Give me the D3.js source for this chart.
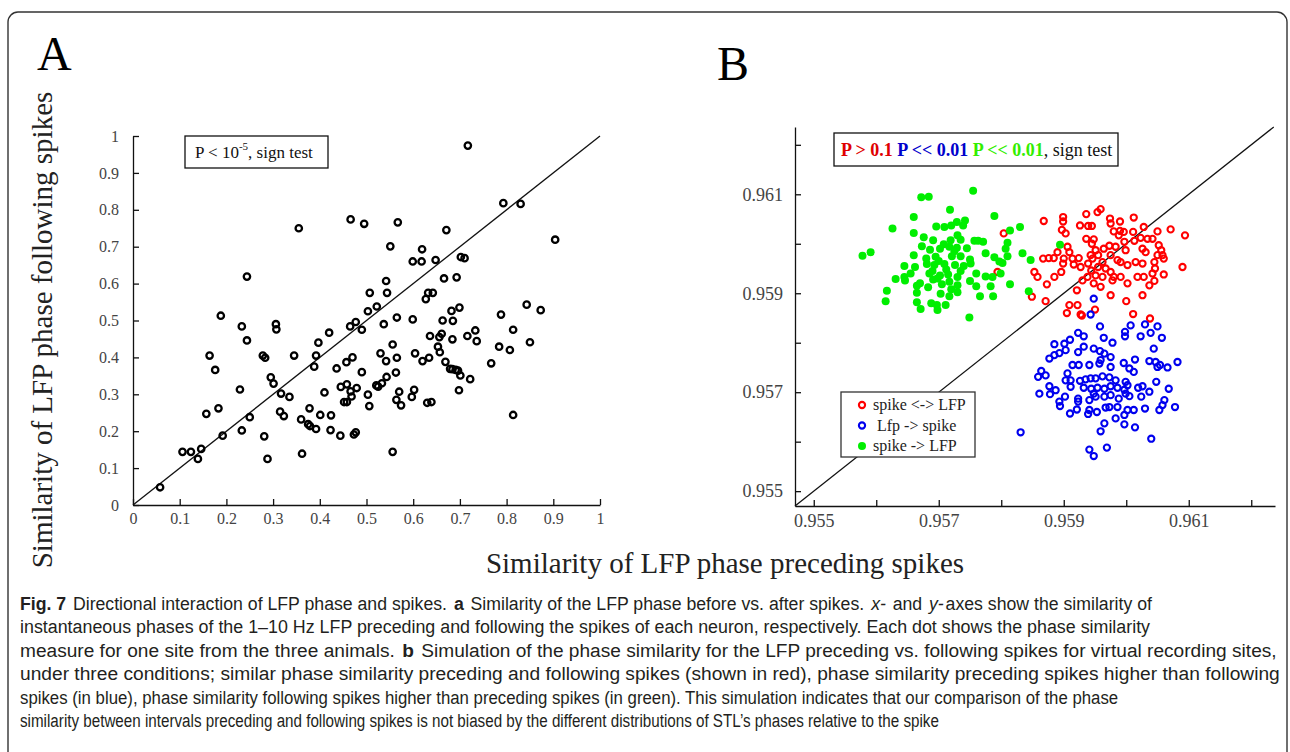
<!DOCTYPE html>
<html>
<head>
<meta charset="utf-8">
<script src="https://cdn.jsdelivr.net/npm/d3@7"></script>
<style>
  body { margin: 0; background: #fff; }
  svg { display: block; }
</style>
</head>
<body>
<svg id="fig" width="1290" height="752"></svg>
<script>
// ---------- Panel A: phase similarity per recording site (preceding, following) ----------
const sitesA = [
  [0.058,0.048],[0.106,0.144],[0.124,0.144],[0.146,0.152],[0.139,0.125],[0.288,0.125],[0.281,0.186],[0.233,0.202],
  [0.192,0.188],[0.157,0.247],[0.183,0.262],[0.250,0.238],[0.229,0.313],[0.295,0.346],[0.301,0.329],[0.317,0.302],
  [0.335,0.293],[0.315,0.253],[0.323,0.241],[0.360,0.232],[0.378,0.262],[0.362,0.139],[0.164,0.405],[0.176,0.366],
  [0.188,0.513],[0.233,0.484],[0.244,0.446],[0.278,0.405],[0.283,0.399],[0.306,0.490],[0.307,0.476],[0.345,0.405],
  [0.375,0.219],[0.379,0.214],[0.392,0.206],[0.388,0.375],[0.397,0.440],[0.392,0.405],[0.410,0.305],[0.423,0.203],
  [0.424,0.243],[0.444,0.188],[0.436,0.370],[0.445,0.320],[0.457,0.387],[0.458,0.327],[0.465,0.484],[0.477,0.496],
  [0.479,0.317],[0.473,0.191],[0.477,0.197],[0.490,0.360],[0.490,0.475],[0.503,0.525],[0.503,0.299],[0.506,0.268],
  [0.470,0.400],[0.458,0.279],[0.452,0.279],[0.466,0.308],[0.468,0.294],[0.244,0.619],[0.355,0.750],[0.466,0.774],
  [0.495,0.762],[0.507,0.575],[0.522,0.538],[0.717,0.974],[0.793,0.818],[0.830,0.816],[0.904,0.719],[0.567,0.766],
  [0.671,0.745],[0.551,0.701],[0.619,0.693],[0.599,0.660],[0.618,0.660],[0.648,0.664],[0.702,0.672],[0.710,0.669],
  [0.666,0.614],[0.693,0.617],[0.542,0.607],[0.544,0.575],[0.632,0.575],[0.642,0.575],[0.627,0.558],[0.843,0.543],
  [0.873,0.528],[0.788,0.516],[0.682,0.526],[0.699,0.535],[0.565,0.508],[0.599,0.503],[0.663,0.500],[0.685,0.499],
  [0.537,0.490],[0.420,0.467],[0.814,0.475],[0.733,0.473],[0.716,0.458],[0.736,0.444],[0.850,0.441],[0.636,0.458],
  [0.656,0.455],[0.661,0.464],[0.684,0.449],[0.784,0.429],[0.807,0.420],[0.653,0.429],[0.657,0.414],[0.556,0.435],
  [0.530,0.411],[0.604,0.411],[0.565,0.399],[0.542,0.390],[0.620,0.390],[0.634,0.399],[0.669,0.388],[0.767,0.384],
  [0.679,0.369],[0.684,0.368],[0.691,0.366],[0.696,0.364],[0.701,0.351],[0.722,0.341],[0.698,0.311],[0.563,0.359],
  [0.543,0.347],[0.533,0.330],[0.521,0.324],[0.525,0.321],[0.570,0.307],[0.602,0.312],[0.597,0.293],[0.564,0.285],
  [0.574,0.270],[0.630,0.277],[0.639,0.279],[0.401,0.244],[0.556,0.144],[0.814,0.244]
];
const ticksA = [0, 0.1, 0.2, 0.3, 0.4, 0.5, 0.6, 0.7, 0.8, 0.9, 1];
const tickLabelsA = ["0", "0.1", "0.2", "0.3", "0.4", "0.5", "0.6", "0.7", "0.8", "0.9", "1"];

// ---------- Panel B: simulated sites under three conditions ----------
const bidirectional = [ // spike <-> LFP
  [0.95868,0.96046],[0.95899,0.96054],[0.95899,0.96045],[0.95897,0.96028],[0.95903,0.96021],[0.95926,0.96037],
  [0.95936,0.96060],[0.95939,0.96036],[0.95945,0.96036],[0.95954,0.96064],[0.95959,0.96070],[0.95974,0.96051],
  [0.95990,0.96045],[0.96012,0.96053],[0.95975,0.96041],[0.95980,0.96025],[0.95990,0.96026],[0.95988,0.96017],
  [0.95996,0.96024],[0.96011,0.96024],[0.96028,0.96034],[0.96050,0.96025],[0.96071,0.96029],[0.96094,0.96017],
  [0.95936,0.96010],[0.95948,0.96009],[0.95945,0.96000],[0.95964,0.95990],[0.95973,0.95996],[0.95983,0.95994],
  [0.95997,0.96004],[0.96013,0.96006],[0.96023,0.96012],[0.96034,0.96010],[0.96042,0.96010],[0.96052,0.95997],
  [0.96056,0.95987],[0.96058,0.95977],[0.96026,0.95990],[0.96031,0.95983],[0.95906,0.95994],[0.95909,0.95983],
  [0.95900,0.95970],[0.95884,0.95971],[0.95876,0.95971],[0.95867,0.95970],[0.95890,0.95983],[0.95899,0.95960],
  [0.95914,0.95970],[0.95924,0.95971],[0.95916,0.95958],[0.95927,0.95953],[0.95939,0.95960],[0.95943,0.95977],
  [0.95951,0.95987],[0.95946,0.95970],[0.95955,0.95977],[0.95962,0.95963],[0.95975,0.95977],[0.95986,0.95967],
  [0.95999,0.95987],[0.95991,0.95963],[0.96002,0.95957],[0.96015,0.95963],[0.96026,0.95960],[0.96045,0.95963],
  [0.96050,0.95977],[0.96060,0.95970],[0.95944,0.95946],[0.95955,0.95953],[0.95967,0.95950],[0.95975,0.95943],
  [0.95980,0.95933],[0.95962,0.95933],[0.95951,0.95936],[0.95938,0.95933],[0.95930,0.95926],[0.95948,0.95920],
  [0.95959,0.95913],[0.95978,0.95926],[0.95991,0.95933],[0.96002,0.95920],[0.96018,0.95933],[0.96028,0.95933],
  [0.96042,0.95940],[0.96046,0.95950],[0.96060,0.95938],[0.96037,0.95916],[0.96045,0.95925],[0.95853,0.95943],
  [0.95858,0.95933],[0.95885,0.95933],[0.95896,0.95943],[0.95873,0.95918],[0.95849,0.95893],[0.95871,0.95884],
  [0.95921,0.95906],[0.95975,0.95896],[0.96000,0.95884],[0.96026,0.95896],[0.96090,0.95953],[0.95922,0.95876],
  [0.95909,0.95876],[0.95905,0.95860],[0.95927,0.95857],[0.95929,0.95855],[0.95950,0.95867],[0.96011,0.95858],
  [0.96038,0.95849],[0.95804,0.96021],[0.95794,0.95943]
];
const lfpToSpike = [ // Lfp -> spike
  [0.95958,0.95833],[0.95998,0.95822],[0.95998,0.95813],[0.96007,0.95835],[0.96030,0.95837],[0.96050,0.95833],
  [0.96039,0.95820],[0.96057,0.95810],[0.96023,0.95813],[0.95964,0.95810],[0.95978,0.95800],[0.95923,0.95820],
  [0.95932,0.95813],[0.95910,0.95806],[0.95901,0.95798],[0.95885,0.95797],[0.95903,0.95785],[0.95893,0.95779],
  [0.95885,0.95775],[0.95877,0.95768],[0.95923,0.95781],[0.95932,0.95792],[0.95948,0.95788],[0.95958,0.95783],
  [0.95965,0.95778],[0.95975,0.95771],[0.95959,0.95765],[0.95957,0.95758],[0.95975,0.95751],[0.95996,0.95759],
  [0.96005,0.95748],[0.96012,0.95741],[0.96014,0.95766],[0.96044,0.95788],[0.96037,0.95763],[0.96047,0.95761],
  [0.96050,0.95751],[0.96066,0.95750],[0.96082,0.95761],[0.96054,0.95755],[0.95914,0.95755],[0.95924,0.95755],
  [0.95941,0.95755],[0.95864,0.95743],[0.95859,0.95731],[0.95871,0.95734],[0.95906,0.95738],[0.95903,0.95724],
  [0.95911,0.95724],[0.95926,0.95723],[0.95935,0.95726],[0.95943,0.95728],[0.95951,0.95728],[0.95962,0.95732],
  [0.95973,0.95730],[0.95983,0.95724],[0.95999,0.95721],[0.96002,0.95714],[0.96019,0.95709],[0.96026,0.95712],
  [0.96037,0.95701],[0.96048,0.95721],[0.96068,0.95707],[0.95877,0.95712],[0.95887,0.95704],[0.95861,0.95697],
  [0.95878,0.95696],[0.95911,0.95711],[0.95932,0.95709],[0.95944,0.95707],[0.95954,0.95709],[0.95965,0.95707],
  [0.95975,0.95712],[0.95986,0.95709],[0.95997,0.95705],[0.96005,0.95692],[0.96024,0.95691],[0.95902,0.95691],
  [0.95893,0.95681],[0.95894,0.95672],[0.95923,0.95687],[0.95923,0.95681],[0.95941,0.95684],[0.95951,0.95691],
  [0.95965,0.95691],[0.95975,0.95694],[0.95988,0.95687],[0.95999,0.95697],[0.96061,0.95684],[0.96058,0.95674],
  [0.96053,0.95664],[0.96078,0.95670],[0.96030,0.95667],[0.95921,0.95665],[0.95910,0.95657],[0.95941,0.95664],
  [0.95953,0.95660],[0.95939,0.95656],[0.95967,0.95669],[0.95986,0.95670],[0.95973,0.95670],[0.96012,0.95664],
  [0.96002,0.95664],[0.95997,0.95654],[0.95983,0.95647],[0.95965,0.95637],[0.95959,0.95621],[0.95997,0.95635],
  [0.96014,0.95629],[0.96040,0.95606],[0.95969,0.95588],[0.95941,0.95584],[0.95948,0.95571],[0.95831,0.95619],
  [0.95948,0.95697],[0.95948,0.95889],[0.95943,0.95857]
];
const spikeToLfp = [ // spike -> LFP
  [0.95755,0.96107],[0.95672,0.96094],[0.95684,0.96095],[0.95718,0.96069],[0.95660,0.96054],[0.95789,0.96056],
  [0.95626,0.96031],[0.95660,0.96022],[0.95696,0.96035],[0.95709,0.96034],[0.95720,0.96037],[0.95729,0.96044],
  [0.95742,0.96047],[0.95739,0.96037],[0.95676,0.96013],[0.95691,0.96007],[0.95708,0.95999],[0.95719,0.96007],
  [0.95730,0.96017],[0.95735,0.96008],[0.95757,0.96006],[0.95771,0.96004],[0.95763,0.96006],[0.95673,0.95995],
  [0.95686,0.95988],[0.95702,0.95990],[0.95717,0.95994],[0.95729,0.95992],[0.95745,0.95991],[0.95578,0.95976],
  [0.95591,0.95983],[0.95660,0.95977],[0.95695,0.95974],[0.95721,0.95975],[0.95735,0.95975],[0.95750,0.95968],
  [0.95775,0.95981],[0.95789,0.95973],[0.95797,0.95964],[0.95645,0.95955],[0.95662,0.95953],[0.95681,0.95959],
  [0.95693,0.95957],[0.95709,0.95959],[0.95726,0.95957],[0.95751,0.95960],[0.95645,0.95933],[0.95631,0.95929],
  [0.95685,0.95940],[0.95702,0.95936],[0.95715,0.95938],[0.95730,0.95933],[0.95760,0.95940],[0.95775,0.95934],
  [0.95786,0.95933],[0.95646,0.95926],[0.95665,0.95915],[0.95691,0.95928],[0.95705,0.95918],[0.95717,0.95923],
  [0.95730,0.95916],[0.95760,0.95914],[0.95783,0.95914],[0.95617,0.95905],[0.95665,0.95901],[0.95683,0.95912],
  [0.95703,0.95899],[0.95717,0.95894],[0.95730,0.95902],[0.95766,0.95894],[0.95787,0.95894],[0.95615,0.95884],
  [0.95665,0.95882],[0.95688,0.95880],[0.95697,0.95876],[0.95671,0.95868],[0.95698,0.95866],[0.95711,0.95876],
  [0.95749,0.95851],[0.95814,0.96027],[0.95830,0.96034],[0.95810,0.96002],[0.95807,0.95990],[0.95810,0.95975],
  [0.95802,0.95961],[0.95834,0.95981],[0.95847,0.95967],[0.95894,0.95998],[0.95814,0.95918],[0.95844,0.95904],
  [0.95799,0.95940],[0.95700,0.95965],[0.95712,0.95948],[0.95690,0.95945],[0.95725,0.95985],[0.95680,0.95970],
  [0.95740,0.95955],[0.95655,0.95940],[0.95750,0.95925],[0.95670,0.95920],[0.95698,0.95930],[0.95735,0.95945],
  [0.95720,0.95908]
];
const ticksB = [0.955, 0.956, 0.957, 0.958, 0.959, 0.960, 0.961, 0.962];
const tickLabelsB = ["0.955", "", "0.957", "", "0.959", "", "0.961", ""];
const legendB = ["spike <-> LFP", " Lfp -> spike", "spike -> LFP"];

// ---------- Caption ----------
const captionLines = [
  [["Fig. 7", "b"], [" Directional interaction of LFP phase and spikes. ", ""], ["a", "b"],
   [" Similarity of the LFP phase before vs. after spikes. ", ""], ["x-", "i"], [" and ", ""], ["y-", "i"],
   ["axes show the similarity of", ""]],
  [["instantaneous phases of the 1–10 Hz LFP preceding and following the spikes of each neuron, respectively. Each dot shows the phase similarity", ""]],
  [["measure for one site from the three animals. ", ""], ["b", "b"],
   [" Simulation of the phase similarity for the LFP preceding vs. following spikes for virtual recording sites,", ""]],
  [["under three conditions; similar phase similarity preceding and following spikes (shown in red), phase similarity preceding spikes higher than following", ""]],
  [["spikes (in blue), phase similarity following spikes higher than preceding spikes (in green). This simulation indicates that our comparison of the phase", ""]],
  [["similarity between intervals preceding and following spikes is not biased by the different distributions of STL’s phases relative to the spike", ""]]
];
const captionWidths = [1132, 1131, 1257, 1261, 1099, 920];

// ---------- drawing ----------
const svg = d3.select("#fig");
const serif = "'Liberation Serif', 'Times New Roman', serif";
const RED = "#ff0000", BLUE = "#0000ee", GREEN = "#00ee00";

// outer frame
svg.append("rect")
  .attr("x", 8).attr("y", 12).attr("width", 1279).attr("height", 800).attr("rx", 10)
  .attr("fill", "none").attr("stroke", "#333").attr("stroke-width", 1.4);

function styleAxis(g, size) {
  g.attr("font-family", serif).attr("font-size", size);
  g.select(".domain").attr("stroke", "#111").attr("stroke-width", 1.3);
  g.selectAll(".tick line").attr("stroke", "#111").attr("stroke-width", 1.3);
  g.selectAll(".tick text").attr("font-family", serif).attr("font-size", size).attr("fill", "#444");
}

// ----- Panel A -----
const xA = d3.scaleLinear().domain([0, 1]).range([133, 600]);
const yA = d3.scaleLinear().domain([0, 1]).range([505, 136]);

svg.append("text").attr("x", 37).attr("y", 70).attr("font-family", serif).attr("font-size", 48).text("A");

const axAx = svg.append("g").attr("transform", `translate(0,${yA(0)})`)
  .call(d3.axisBottom(xA).tickValues(ticksA).tickFormat((d, i) => tickLabelsA[i])
    .tickSize(-6).tickSizeOuter(0).tickPadding(8));
styleAxis(axAx, 16);
const axAy = svg.append("g").attr("transform", `translate(${xA(0)},0)`)
  .call(d3.axisLeft(yA).tickValues(ticksA).tickFormat((d, i) => tickLabelsA[i])
    .tickSize(-6).tickSizeOuter(0).tickPadding(14));
styleAxis(axAy, 16);

svg.append("line")
  .attr("x1", xA(0)).attr("y1", yA(0)).attr("x2", xA(1)).attr("y2", yA(1))
  .attr("stroke", "#111").attr("stroke-width", 1.3);

svg.append("g").selectAll("circle").data(sitesA).join("circle")
  .attr("cx", d => xA(d[0])).attr("cy", d => yA(d[1])).attr("r", 3.2)
  .attr("fill", "none").attr("stroke", "#000").attr("stroke-width", 2.3);

svg.append("rect").attr("x", 185).attr("y", 136).attr("width", 143).attr("height", 32)
  .attr("fill", "#fff").attr("stroke", "#111").attr("stroke-width", 1.3);
const pA = svg.append("text").attr("x", 195).attr("y", 158).attr("font-family", serif).attr("font-size", 17).attr("fill", "#111");
pA.append("tspan").text("P < 10");
pA.append("tspan").attr("dy", -8).attr("font-size", 11).text("-5");
pA.append("tspan").attr("dy", 8).text(", sign test");

svg.append("text")
  .attr("transform", "translate(52,330) rotate(-90)")
  .attr("text-anchor", "middle").attr("font-family", serif).attr("font-size", 29).attr("fill", "#222")
  .text("Similarity of LFP phase following spikes");

// ----- Panel B -----
const xB = d3.scaleLinear().domain([0.9547, 0.96238]).range([795, 1275]);
const yB = d3.scaleLinear().domain([0.9547, 0.96236]).range([506, 127]);

svg.append("text").attr("x", 717).attr("y", 80).attr("font-family", serif).attr("font-size", 48).text("B");

const axBx = svg.append("g").attr("transform", `translate(0,${yB.range()[0]})`)
  .call(d3.axisBottom(xB).tickValues(ticksB).tickFormat((d, i) => tickLabelsB[i])
    .tickSize(-6).tickSizeOuter(0).tickPadding(8));
styleAxis(axBx, 18);
const axBy = svg.append("g").attr("transform", `translate(${xB.range()[0]},0)`)
  .call(d3.axisLeft(yB).tickValues(ticksB).tickFormat((d, i) => tickLabelsB[i])
    .tickSize(-6).tickSizeOuter(0).tickPadding(12));
styleAxis(axBy, 18);

const diagB = [yB.domain()[0], Math.min(xB.domain()[1], yB.domain()[1])];
svg.append("line")
  .attr("x1", xB(diagB[0])).attr("y1", yB(diagB[0])).attr("x2", xB(diagB[1])).attr("y2", yB(diagB[1]))
  .attr("stroke", "#111").attr("stroke-width", 1.3);

svg.append("g").selectAll("circle").data(bidirectional).join("circle")
  .attr("cx", d => xB(d[0])).attr("cy", d => yB(d[1])).attr("r", 3.1)
  .attr("fill", "none").attr("stroke", RED).attr("stroke-width", 2.1);
svg.append("g").selectAll("circle").data(lfpToSpike).join("circle")
  .attr("cx", d => xB(d[0])).attr("cy", d => yB(d[1])).attr("r", 3.1)
  .attr("fill", "none").attr("stroke", BLUE).attr("stroke-width", 2.1);
svg.append("g").selectAll("circle").data(spikeToLfp).join("circle")
  .attr("cx", d => xB(d[0])).attr("cy", d => yB(d[1])).attr("r", 4)
  .attr("fill", GREEN);

// significance box
svg.append("rect").attr("x", 834).attr("y", 133).attr("width", 284).attr("height", 33)
  .attr("fill", "#fff").attr("stroke", "#111").attr("stroke-width", 1.3);
const pB = svg.append("text").attr("x", 841).attr("y", 156).attr("font-family", serif).attr("font-size", 18);
pB.append("tspan").attr("fill", "#e00000").attr("font-weight", "bold").text("P > 0.1 ");
pB.append("tspan").attr("fill", "#0000cc").attr("font-weight", "bold").text("P << 0.01 ");
pB.append("tspan").attr("fill", "#33ee00").attr("font-weight", "bold").text("P << 0.01");
pB.append("tspan").attr("fill", "#111").text(", sign test");

// legend
const leg = svg.append("g");
leg.append("rect").attr("x", 841).attr("y", 392).attr("width", 134).attr("height", 65)
  .attr("fill", "#fff").attr("stroke", "#333").attr("stroke-width", 1.3);
const legStyles = [
  { stroke: RED, fill: "none", r: 3.1 },
  { stroke: BLUE, fill: "none", r: 3.1 },
  { stroke: "none", fill: GREEN, r: 4 }
];
legendB.forEach((lab, i) => {
  const cy = 405 + i * 20.5;
  leg.append("circle").attr("cx", 862).attr("cy", cy).attr("r", legStyles[i].r)
    .attr("fill", legStyles[i].fill).attr("stroke", legStyles[i].stroke).attr("stroke-width", 2.1);
  leg.append("text").attr("x", 873).attr("y", cy + 5).attr("font-family", serif).attr("font-size", 16)
    .attr("fill", "#222").style("white-space", "pre").text(lab);
});

// shared x-axis title
svg.append("text").attr("x", 725).attr("y", 573).attr("text-anchor", "middle")
  .attr("font-family", serif).attr("font-size", 29).attr("fill", "#222")
  .text("Similarity of LFP phase preceding spikes");

// ----- caption: each line is a horizontally condensed group of styled runs -----
const capFont = "'Liberation Sans', Arial, sans-serif";
captionLines.forEach((segs, i) => {
  const line = svg.append("g");
  const runs = segs.map(([txt, st]) => {
    const t = line.append("text").attr("y", 0)
      .attr("font-family", capFont).attr("font-size", 19).attr("fill", "#231f20")
      .attr("xml:space", "preserve").style("white-space", "pre").text(txt);
    if (st === "b") t.attr("font-weight", "bold");
    if (st === "i") t.attr("font-style", "italic");
    return { t, w: t.node().getComputedTextLength() };
  });
  const gap = 2;
  let x = 0;
  runs.forEach(r => { r.t.attr("x", x); x += r.w + gap; });
  const natural = x - gap;
  const k = captionWidths[i] / natural;
  line.attr("transform", `translate(20,${610 + i * 23.4}) scale(${k},1)`);
});
</script>
</body>
</html>
